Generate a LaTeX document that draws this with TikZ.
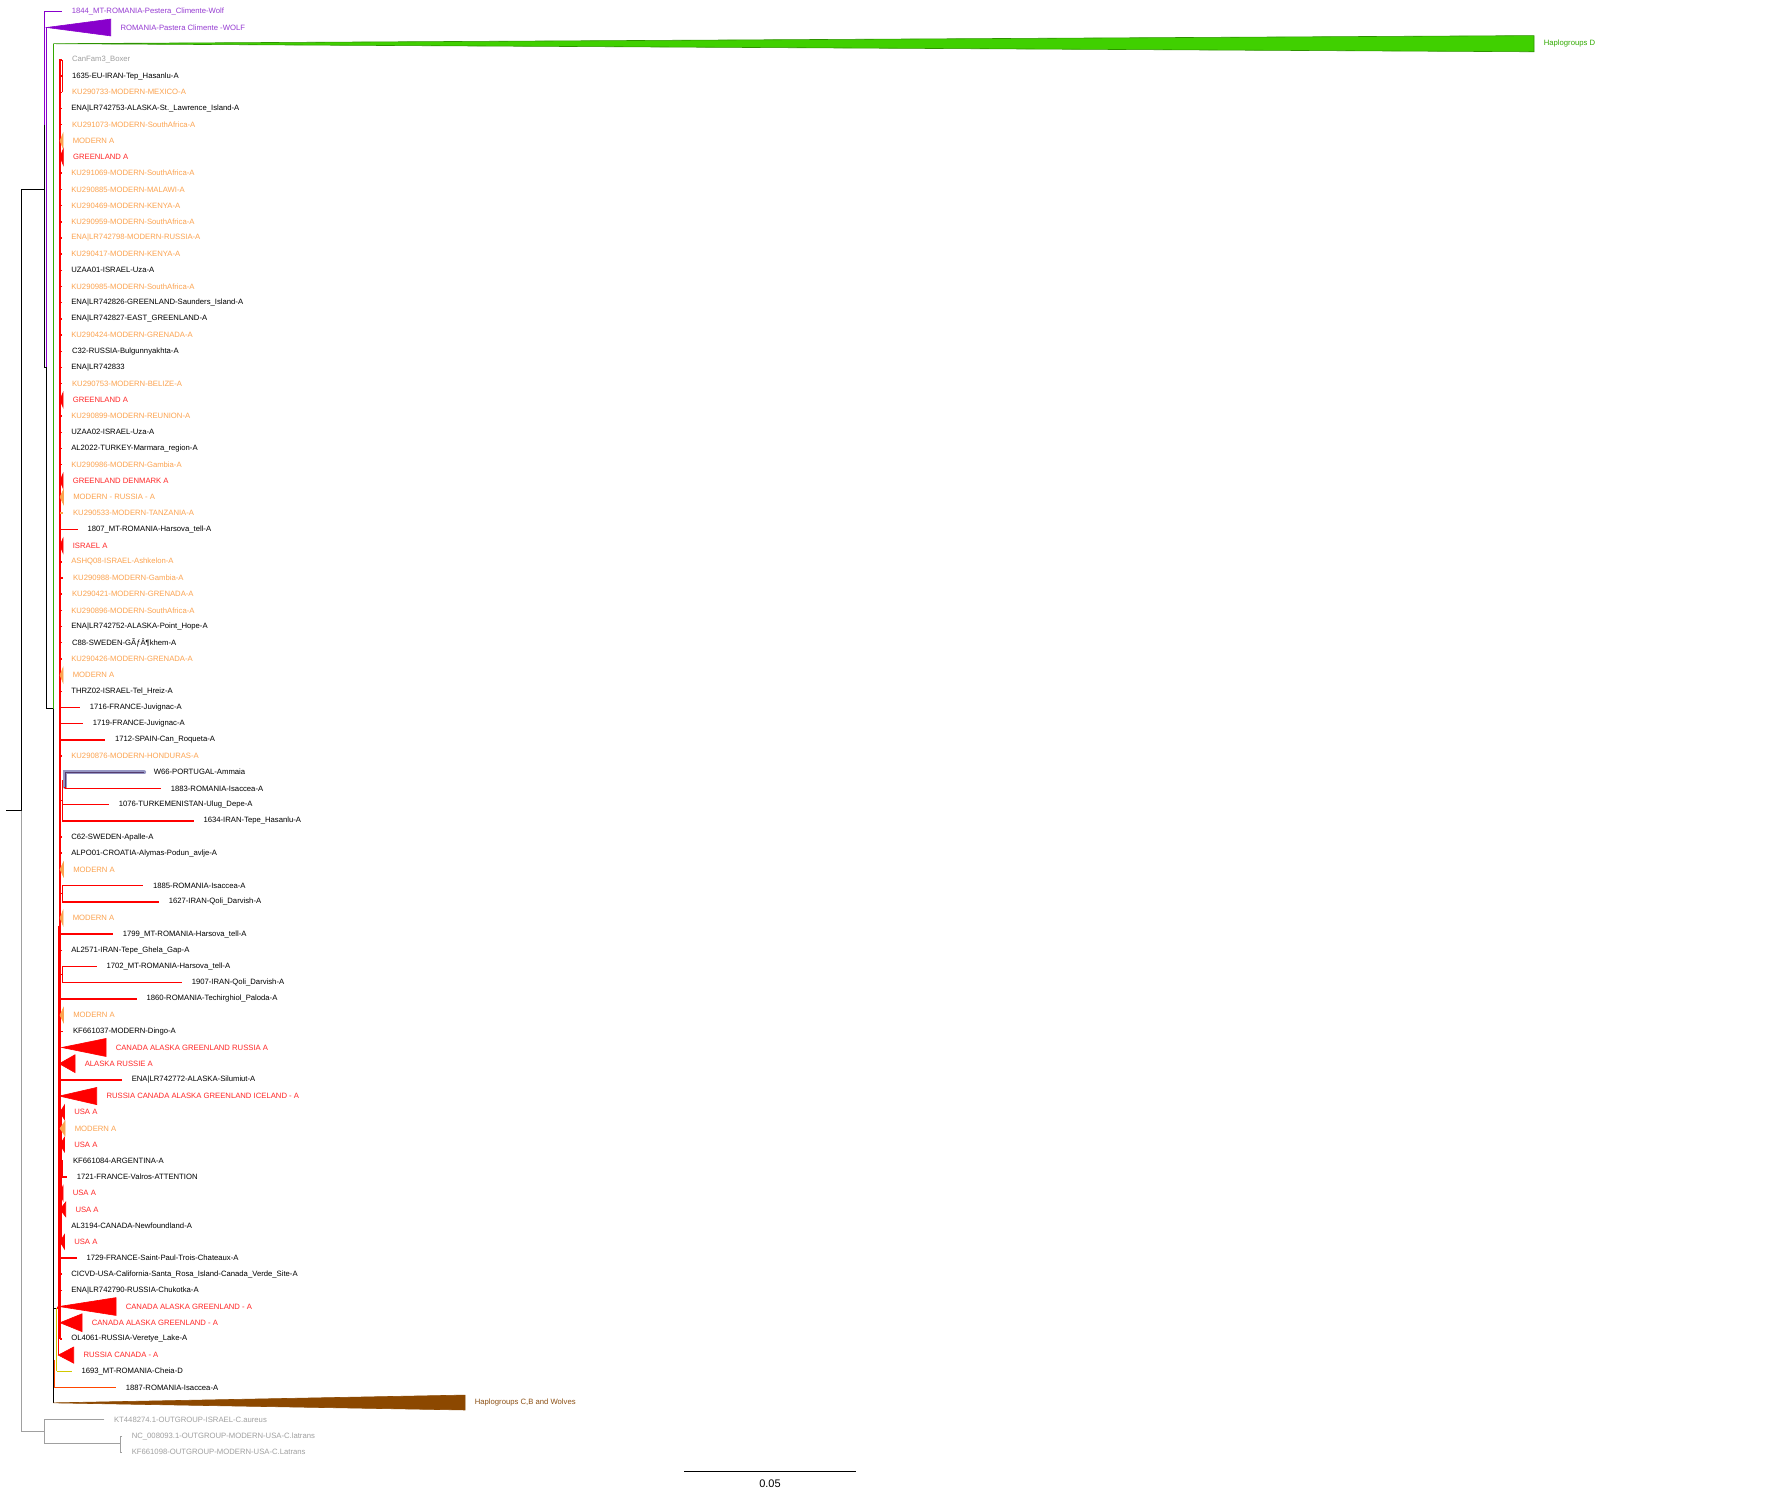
\documentclass[tikz,border=0pt]{standalone}
\usepackage{fontspec}
\setmainfont{Liberation Sans}
\usepackage{tikz}
\usetikzlibrary{positioning}
\definecolor{treered}{RGB}{255,0,0}
\definecolor{lred}{RGB}{255,40,40}
\definecolor{lorange}{RGB}{252,163,80}
\definecolor{lgrey}{RGB}{160,160,160}
\definecolor{wolfpurple}{RGB}{136,0,204}
\definecolor{lpurple}{RGB}{150,60,210}
\definecolor{hapgreen}{RGB}{64,208,0}
\definecolor{lgreen}{RGB}{50,170,0}
\definecolor{hapbrown}{RGB}{140,72,0}
\definecolor{lbrown}{RGB}{140,80,20}
\definecolor{dyellow}{RGB}{210,200,0}
\definecolor{orred}{RGB}{255,70,0}
\definecolor{hlblue}{RGB}{150,150,195}
\definecolor{hlline}{RGB}{85,60,110}
\tikzset{
  taxon/.style={anchor=west, inner sep=0pt, xshift=4.7pt},
  br/.style={line width=0.45pt},
  rbr/.style={line width=0.75pt, treered},
}

\begin{document}
\begin{tikzpicture}[x=0.5pt,y=-8.095pt,font=\fontsize{3.85}{4.6}\selectfont]
\fill[white] (0,0.302) rectangle (1775,92.70);
\useasboundingbox (0,0.302) rectangle (1775,92.70);
% backbone
\draw[br] (6,50.38) -- (21.3,50.38);
\draw[br] (21.3,11.976) -- (21.3,50.38);
\draw[br] (21.3,11.976) -- (44.3,11.976);
\draw[br,wolfpurple] (44.3,8) -- (44.3,1) -- (62,1);
\draw[br] (44.3,8) -- (44.3,22.97) -- (46.7,22.97);
\draw[br,wolfpurple] (46.7,22.97) -- (46.7,2);
\draw[br] (46.7,22.97) -- (46.7,44.09) -- (53.3,44.09);
\draw[br,hapgreen!80!black] (53.3,44.09) -- (53.3,3);
\draw[br] (53.3,44.09) -- (53.3,86.95);
\node[taxon,text=lpurple] (wolf1) at (62,1) {1844\_MT-ROMANIA-Pestera\_Climente-Wolf};
\filldraw[fill=wolfpurple,draw=wolfpurple,line width=0.3pt] (46.7,2) -- (110.7,1.48) -- (110.7,2.52) -- cycle;
\node[taxon,text=lpurple] (wolf2) at (110.7,2) {ROMANIA-Pastera Climente -WOLF};
\filldraw[fill=hapgreen,draw=hapgreen!70!black,line width=0.3pt] (53.3,3) -- (1534,2.5) -- (1534,3.5) -- cycle;
\node[taxon,text=lgreen] (hapD) at (1534,3) {Haplogroups D};
\filldraw[fill=hapbrown,draw=hapbrown,line width=0.3pt] (53.3,86.95) -- (465,86.47) -- (465,87.39) -- cycle;
\node[taxon,text=lbrown] (hapCB) at (465,86.95) {Haplogroups C,B and Wolves};
% outgroup
\draw[br,lgrey] (21.3,50.38) -- (21.3,88.69) -- (44.3,88.69);
\draw[br,lgrey] (104.3,88) -- (44.3,88) -- (44.3,89.45) -- (120.3,89.45);
\draw[br,lgrey] (122,89) -- (120.3,89) -- (120.3,90) -- (122,90);
\node[taxon,text=lgrey] (out1) at (104.3,88) {KT448274.1-OUTGROUP-ISRAEL-C.aureus};
\node[taxon,text=lgrey] (out2) at (122,89) {NC\_008093.1-OUTGROUP-MODERN-USA-C.latrans};
\node[taxon,text=lgrey] (out3) at (122,90) {KF661098-OUTGROUP-MODERN-USA-C.Latrans};
% clade A
\draw[rbr] (60,3.95) -- (60,83);
\draw[rbr] (62.3,4) -- (62.3,6);
\draw[rbr] (58.7,57.5) -- (58.7,84);
\draw[rbr] (58.7,57.5) -- (60,57.5);
\draw[rbr] (60,49.75) -- (62.3,49.75);
\draw[rbr] (65,48.5) -- (62.3,48.5) -- (62.3,51);
\draw[rbr] (60,55.5) -- (62.3,55.5);
\draw[rbr] (62.3,55) -- (62.3,56);
\draw[rbr] (60,60.5) -- (62.3,60.5);
\draw[rbr] (62.3,60) -- (62.3,61);
\draw[rbr] (61.7,69) -- (61.7,77);
\draw[rbr] (60,72.5) -- (62.3,72.5);
\draw[rbr] (62.3,72) -- (62.3,73);
\draw[hlblue,line width=2.2pt,line cap=round] (65,48.9) -- (65,48) -- (144,48);
\draw[line width=0.4pt,hlline] (65,48.9) -- (65,48) -- (144,48);
\node[taxon] (t48) at (144,48) {W66-PORTUGAL-Ammaia};
\draw[rbr] (65,48.9) -- (65,49);
\draw[br] (53.3,81.1) -- (56.7,81.1);
\draw[rbr] (56.7,81.1) -- (58.7,81.1);
\draw[line width=0.75pt,dyellow] (56.7,81.1) -- (56.7,85);
\draw[br] (53.3,84.3) -- (54.3,84.3);
\draw[line width=0.75pt,orred] (54.3,84.3) -- (54.3,86);
\foreach \row/\xa/\xb/\bc/\lc/\txt in {
  4/60/62.3/treered/lgrey/CanFam3\_Boxer,
  5/60/62.3/treered/black/1635-EU-IRAN-Tep\_Hasanlu-A,
  6/60/62.3/treered/lorange/KU290733-MODERN-MEXICO-A,
  7/60/61.5/treered/black/ENA|LR742753-ALASKA-St.\_Lawrence\_Island-A,
  8/60/62.3/treered/lorange/KU291073-MODERN-SouthAfrica-A,
  11/60/61.5/treered/lorange/KU291069-MODERN-SouthAfrica-A,
  12/60/61.5/treered/lorange/KU290885-MODERN-MALAWI-A,
  13/60/61.5/treered/lorange/KU290469-MODERN-KENYA-A,
  14/60/61.5/treered/lorange/KU290959-MODERN-SouthAfrica-A,
  15/60/61.5/treered/lorange/ENA|LR742798-MODERN-RUSSIA-A,
  16/60/61.5/treered/lorange/KU290417-MODERN-KENYA-A,
  17/60/61.5/treered/black/UZAA01-ISRAEL-Uza-A,
  18/60/61.5/treered/lorange/KU290985-MODERN-SouthAfrica-A,
  19/60/61.5/treered/black/ENA|LR742826-GREENLAND-Saunders\_Island-A,
  20/60/61.5/treered/black/ENA|LR742827-EAST\_GREENLAND-A,
  21/60/61.5/treered/lorange/KU290424-MODERN-GRENADA-A,
  22/60/62.3/treered/black/C32-RUSSIA-Bulgunnyakhta-A,
  23/60/61.5/treered/black/ENA|LR742833,
  24/60/62.3/treered/lorange/KU290753-MODERN-BELIZE-A,
  26/60/61.5/treered/lorange/KU290899-MODERN-REUNION-A,
  27/60/61.5/treered/black/UZAA02-ISRAEL-Uza-A,
  28/60/61.5/treered/black/AL2022-TURKEY-Marmara\_region-A,
  29/60/61.5/treered/lorange/KU290986-MODERN-Gambia-A,
  32/60/63.3/lorange/lorange/KU290533-MODERN-TANZANIA-A,
  33/60/77.7/treered/black/1807\_MT-ROMANIA-Harsova\_tell-A,
  35/60/61.5/treered/lorange/ASHQ08-ISRAEL-Ashkelon-A,
  36/60/63.3/treered/lorange/KU290988-MODERN-Gambia-A,
  37/60/62.3/treered/lorange/KU290421-MODERN-GRENADA-A,
  38/60/61.5/treered/lorange/KU290896-MODERN-SouthAfrica-A,
  39/60/61.5/treered/black/ENA|LR742752-ALASKA-Point\_Hope-A,
  40/60/62.3/treered/black/C88-SWEDEN-GÃƒÂ¶khem-A,
  41/60/61.5/treered/lorange/KU290426-MODERN-GRENADA-A,
  43/60/61.5/treered/black/THRZ02-ISRAEL-Tel\_Hreiz-A,
  44/60/80/treered/black/1716-FRANCE-Juvignac-A,
  45/60/83/treered/black/1719-FRANCE-Juvignac-A,
  46/59.3/105.3/treered/black/1712-SPAIN-Can\_Roqueta-A,
  47/60/61.5/treered/lorange/KU290876-MODERN-HONDURAS-A,
  49/65/161/treered/black/1883-ROMANIA-Isaccea-A,
  50/62.3/109/treered/black/1076-TURKEMENISTAN-Ulug\_Depe-A,
  51/62.3/193.7/treered/black/1634-IRAN-Tepe\_Hasanlu-A,
  52/60/61.5/treered/black/C62-SWEDEN-Apalle-A,
  53/60/61.5/treered/black/ALPO01-CROATIA-Alymas-Podun\_avlje-A,
  55/62.3/143.3/treered/black/1885-ROMANIA-Isaccea-A,
  56/62.3/159/treered/black/1627-IRAN-Qoli\_Darvish-A,
  58/60/113/treered/black/1799\_MT-ROMANIA-Harsova\_tell-A,
  59/60/61.5/treered/black/AL2571-IRAN-Tepe\_Ghela\_Gap-A,
  60/62.3/96.7/treered/black/1702\_MT-ROMANIA-Harsova\_tell-A,
  61/62.3/182/treered/black/1907-IRAN-Qoli\_Darvish-A,
  62/60/136.7/treered/black/1860-ROMANIA-Techirghiol\_Paloda-A,
  64/60/63.3/treered/black/KF661037-MODERN-Dingo-A,
  67/58.7/122/treered/black/ENA|LR742772-ALASKA-Silumiut-A,
  72/62.3/63.3/treered/black/KF661084-ARGENTINA-A,
  73/62.3/67/treered/black/1721-FRANCE-Valros-ATTENTION,
  76/60/61.5/treered/black/AL3194-CANADA-Newfoundland-A,
  78/60/76.7/treered/black/1729-FRANCE-Saint-Paul-Trois-Chateaux-A,
  79/60/61.5/treered/black/CICVD-USA-California-Santa\_Rosa\_Island-Canada\_Verde\_Site-A,
  80/60/61.5/treered/black/ENA|LR742790-RUSSIA-Chukotka-A,
  83/60/61.5/treered/black/OL4061-RUSSIA-Veretye\_Lake-A,
  85/56.7/71.7/dyellow/black/1693\_MT-ROMANIA-Cheia-D,
  86/54.3/116/orred/black/1887-ROMANIA-Isaccea-A
} {
  \draw[line width=0.75pt,\bc] (\xa,\row) -- (\xb,\row);
  \node[taxon,text=\lc] (t\row) at (\xb,\row) {\txt};
}
% collapsed clades
\foreach \row/\xa/\xb/\h/\fc/\lc/\txt in {
  9/60/63/0.45/lorange/lorange/MODERN A,
  10/60/63.3/0.5/treered/lred/GREENLAND A,
  25/60/63/0.45/treered/lred/GREENLAND A,
  30/60/63/0.45/treered/lred/GREENLAND DENMARK A,
  31/60/63.5/0.45/lorange/lorange/MODERN - RUSSIA - A,
  34/60/63/0.45/treered/lred/ISRAEL A,
  42/60/63/0.45/lorange/lorange/MODERN A,
  54/60/63.5/0.45/lorange/lorange/MODERN A,
  57/60/63/0.45/lorange/lorange/MODERN A,
  63/60/63.5/0.45/lorange/lorange/MODERN A,
  65/61.7/106/0.556/treered/lred/CANADA ALASKA GREENLAND RUSSIA A,
  66/59.3/75/0.55/treered/lred/ALASKA RUSSIE A,
  68/59.3/96.7/0.53/treered/lred/RUSSIA CANADA ALASKA GREENLAND ICELAND - A,
  69/60/64.5/0.45/treered/lred/USA A,
  70/60/65/0.45/lorange/lorange/MODERN A,
  71/60/64.5/0.45/treered/lred/USA A,
  74/60/63/0.45/treered/lred/USA A,
  75/60/65.7/0.45/treered/lred/USA A,
  77/60/64.5/0.45/treered/lred/USA A,
  81/59/116/0.55/treered/lred/CANADA ALASKA GREENLAND - A,
  82/60/82/0.55/treered/lred/CANADA ALASKA GREENLAND - A,
  84/58.3/73.7/0.5/treered/lred/RUSSIA CANADA - A
} {
  \filldraw[fill=\fc,draw=\fc,line width=0.3pt] (\xa,\row) -- (\xb,\row-\h) -- (\xb,\row+\h) -- cycle;
  \node[taxon,text=\lc] (c\row) at (\xb,\row) {\txt};
}
% scale
\coordinate (s0) at (684,91.2);
\coordinate (s1) at (856,91.2);
\draw[br] (s0) -- (s1);
\node[font=\fontsize{5.5}{6}\selectfont] (scl) at (770,91.95) {0.05};
\end{tikzpicture}
\end{document}
